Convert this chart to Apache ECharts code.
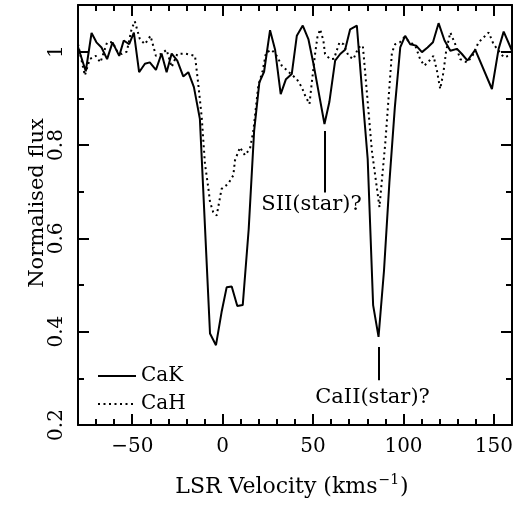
<!DOCTYPE html>
<html>
<head>
<meta charset="utf-8"/>
<title>CaK / CaH profiles</title>
<script type="text/javascript" src="https://cdn.jsdelivr.net/npm/echarts@6/dist/echarts.min.js"></script>
<style type="text/css">
	body{
		margin: 0px;
		padding: 0px;
		background: #fff;
	}
	#chart{
		width: 516px;
		height: 506px;
	}
</style>
</head>
<body>
	<div id="chart"></div>
<script type="text/javascript">
	// CaK (solid)
	var velK = [-80, -75.7, -72.5, -69.8, -67, -63.9, -60.9, -57.2, -54.7, -51.7,
		-49.1, -46.2, -43, -40.3, -36.9, -33.8, -31, -28.2, -25.1, -21.8,
		-19, -15.9, -12.6, -7, -3.7, -0.6, 2.2, 5, 8.1, 11.1,
		14.4, 17.4, 20.3, 22.9, 26.2, 29, 32.1, 35, 38.2, 41,
		44.3, 47.4, 50.2, 52.9, 56.3, 59, 62.2, 65, 67.7, 70.5,
		74.2, 77.2, 80.2, 83.2, 86.2, 89.2, 92.2, 95.2, 98.2, 100.9,
		103.7, 107, 110.2, 113.3, 116.3, 119.4, 122.7, 125.9, 129.6, 132.3,
		135.4, 139.7, 148.9, 152.6, 155.4, 160];
	var fluxK = [1.01, 0.958, 1.04, 1.02, 1.009, 0.984, 1.02, 0.991, 1.024, 1.016,
		1.041, 0.956, 0.974, 0.977, 0.961, 0.996, 0.956, 0.996, 0.981, 0.947,
		0.956, 0.924, 0.856, 0.396, 0.371, 0.442, 0.495, 0.497, 0.455, 0.457,
		0.62, 0.83, 0.934, 0.957, 1.046, 1.004, 0.909, 0.941, 0.952, 1.034,
		1.056, 1.027, 0.974, 0.917, 0.845, 0.892, 0.981, 0.995, 1.004, 1.048,
		1.056, 0.911, 0.77, 0.457, 0.389, 0.53, 0.72, 0.88, 1.009, 1.034,
		1.016, 1.013, 0.999, 1.009, 1.02, 1.061, 1.024, 1.002, 1.006, 0.995,
		0.981, 1.004, 0.92, 1.006, 1.043, 1.002];
	// CaH (dotted)
	var velH = [-80, -76.2, -73.5, -70.2, -67.6, -63.9, -60.9, -58.2, -55.9, -53,
		-50.4, -48.6, -45.8, -43, -39.9, -36.9, -34, -31, -28.2, -25.1,
		-20.9, -15.3, -13.5, -11.6, -9.8, -8, -7, -5.2, -3.3, -0.6,
		3.1, 5.9, 6.8, 9.6, 12.3, 15.1, 17, 19.7, 22.1, 24,
		27.1, 29.9, 32.7, 35.8, 41, 43.7, 45.6, 48, 49.3, 51.1,
		52.4, 53.9, 55.7, 56.6, 59.4, 61.6, 64.6, 66.8, 69.6, 72.3,
		75.1, 77.5, 78.8, 82.5, 86.7, 89.9, 93.6, 95.4, 98, 100.4,
		103.7, 106.5, 109.2, 111.5, 114.4, 116.6, 118.5, 120.3, 122.1, 123.6,
		125.9, 128.6, 131.4, 135.1, 138, 141.5, 147.1, 149.8, 152.6, 155.4,
		158.2, 160];
	var fluxH = [1.016, 0.949, 0.984, 0.991, 0.977, 1.02, 1.02, 1.0, 0.995, 1.0,
		1.048, 1.065, 1.027, 1.016, 1.034, 0.991, 0.995, 1.004, 0.967, 0.995,
		0.996, 0.991, 0.931, 0.86, 0.76, 0.71, 0.678, 0.656, 0.649, 0.706,
		0.717, 0.735, 0.767, 0.795, 0.778, 0.792, 0.831, 0.927, 0.959, 0.998,
		1.004, 0.991, 0.97, 0.959, 0.941, 0.924, 0.906, 0.888, 0.934, 0.995,
		1.031, 1.048, 1.024, 0.995, 0.984, 0.985, 1.02, 1.016, 0.991, 0.984,
		1.009, 1.013, 0.956, 0.788, 0.667, 0.803, 0.998, 1.016, 1.02, 1.031,
		1.02, 1.013, 0.984, 0.97, 0.981, 0.991, 0.959, 0.92, 0.956, 1.002,
		1.041, 1.016, 0.984, 0.977, 0.99, 1.02, 1.041, 1.016, 1.002, 0.988,
		0.991, 0.99];
	// axes
	var xTicks = [-50, 0, 50, 100, 150];
	var yTicks = [0.2, 0.4, 0.6, 0.8, 1];
	// star line markers: velocity, flux top, flux bottom
	var markSII = [56.3, 0.83, 0.698];
	var markCaII = [86.2, 0.367, 0.296];

	var font = 'DejaVu Serif';

	function pairs(xs, ys){
		var out = [];
		for(var i=0;i<xs.length;i++){
			out.push([xs[i], ys[i]]);
		}
		return out;
	}

	function minusFmt(v){
		return v < 0 ? '\u2212' + Math.abs(v) : String(v);
	}

	var myChart = echarts.init(document.getElementById('chart'), null, {renderer: 'canvas'});

	function xAxisDef(pos, major){
		return {
			type: 'value',
			position: pos,
			min: -80,
			max: 160,
			interval: major ? null : 10,
			axisLine: {show: major, onZero: false, lineStyle: {color: '#000', width: 2}},
			axisTick: major ? {inside: true, length: 11, customValues: xTicks, lineStyle: {color: '#000', width: 2}}
				: {inside: true, length: 6, lineStyle: {color: '#000', width: 2}},
			axisLabel: (major && pos == 'bottom') ? {
				customValues: xTicks,
				formatter: minusFmt,
				color: '#000',
				fontFamily: font,
				fontSize: 20,
				margin: 12
			} : {show: false},
			splitLine: {show: false}
		};
	}

	function yAxisDef(pos, major){
		return {
			type: 'value',
			position: pos,
			min: 0.2,
			max: 1.1,
			interval: major ? null : 0.1,
			axisLine: {show: major, onZero: false, lineStyle: {color: '#000', width: 2}},
			axisTick: major ? {inside: true, length: 11, customValues: yTicks, lineStyle: {color: '#000', width: 2}}
				: {inside: true, length: 6, lineStyle: {color: '#000', width: 2}},
			axisLabel: (major && pos == 'left') ? {
				customValues: yTicks,
				rotate: 90,
				color: '#000',
				fontFamily: font,
				fontSize: 20,
				margin: 11
			} : {show: false},
			splitLine: {show: false}
		};
	}

	var option = {
		animation: false,
		backgroundColor: '#fff',
		grid: {
			left: 78,
			right: 4,
			top: 5,
			bottom: 81
		},
		legend: {
			orient: 'vertical',
			left: 92,
			top: 361,
			itemWidth: 38,
			itemHeight: 12,
			itemGap: 8,
			itemStyle: {opacity: 0},
			textStyle: {color: '#000', fontFamily: font, fontSize: 20},
			data: ['CaK', 'CaH']
		},
		xAxis: [
			xAxisDef('bottom', true),
			xAxisDef('bottom', false),
			xAxisDef('top', true),
			xAxisDef('top', false)
		],
		yAxis: [
			yAxisDef('left', true),
			yAxisDef('left', false),
			yAxisDef('right', true),
			yAxisDef('right', false)
		],
		series: [
			{
				name: 'CaK',
				type: 'line',
				symbol: 'none',
				lineStyle: {color: '#000', width: 2},
				itemStyle: {color: '#000'},
				data: pairs(velK, fluxK),
				markLine: {
					silent: true,
					symbol: 'none',
					label: {show: false},
					lineStyle: {color: '#000', width: 2, type: 'solid'},
					data: [
						[{coord: [markSII[0], markSII[1]]}, {coord: [markSII[0], markSII[2]]}],
						[{coord: [markCaII[0], markCaII[1]]}, {coord: [markCaII[0], markCaII[2]]}]
					]
				}
			},
			{
				name: 'CaH',
				type: 'line',
				symbol: 'none',
				lineStyle: {color: '#000', width: 2, type: [2, 3.5]},
				itemStyle: {color: '#000'},
				data: pairs(velH, fluxH)
			}
		]
	};
	myChart.setOption(option);

	// axis titles and star labels
	var pSII = myChart.convertToPixel({xAxisIndex: 0, yAxisIndex: 0}, [markSII[0], markSII[2]]);
	var pCaII = myChart.convertToPixel({xAxisIndex: 0, yAxisIndex: 0}, [markCaII[0], markCaII[2]]);
	myChart.setOption({
		graphic: [
			{
				type: 'text',
				x: pSII[0] - 13,
				y: pSII[1] + 12,
				style: {text: 'SII(star)?', font: '21px "DejaVu Serif"', fill: '#000', align: 'center', verticalAlign: 'middle'}
			},
			{
				type: 'text',
				x: pCaII[0] - 6,
				y: pCaII[1] + 17,
				style: {text: 'CaII(star)?', font: '21px "DejaVu Serif"', fill: '#000', align: 'center', verticalAlign: 'middle'}
			},
			{
				type: 'text',
				x: 292,
				y: 487,
				style: {
					text: '{a|LSR Velocity (kms}{s|\u22121}{a|)}',
					align: 'center',
					verticalAlign: 'middle',
					rich: {
						a: {font: '22px "DejaVu Serif"', fill: '#000', lineHeight: 26},
						s: {font: '14px "DejaVu Serif"', fill: '#000', lineHeight: 26, padding: [0, 1, 14, 1]}
					}
				}
			},
			{
				type: 'text',
				x: 38,
				y: 203,
				rotation: Math.PI / 2,
				style: {text: 'Normalised flux', font: '21px "DejaVu Serif"', fill: '#000', align: 'center', verticalAlign: 'middle'}
			}
		]
	});
</script>
</body>
</html>
